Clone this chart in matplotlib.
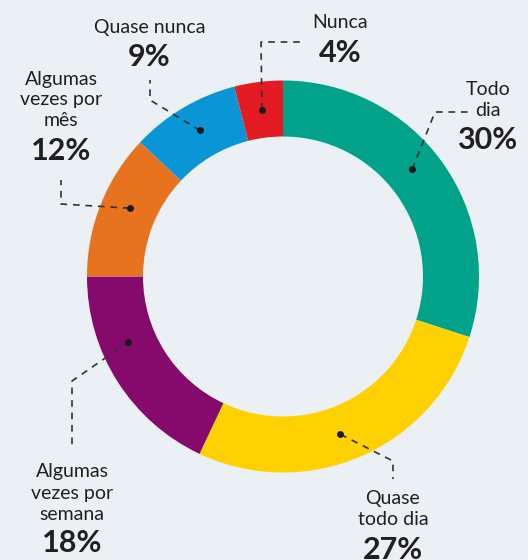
import numpy as np
import matplotlib
matplotlib.use("Agg")
import matplotlib.pyplot as plt

# ---------------- Data ----------------
labels = ["Todo\ndia", "Quase\ntodo dia", "Algumas\nvezes por\nsemana",
          "Algumas\nvezes por\nmês", "Quase nunca", "Nunca"]
values = [30, 27, 18, 12, 9, 4]
colors = ["#00A389", "#FFD100", "#850A6B", "#E8731E", "#0A96D6", "#E31B23"]

# ---------------- Layout (pixel coords, y down) ----------------
W, H = 528, 560
BG = "#EAF0F3"
INK = "#231F20"
cx, cy = 283, 276.5
R, ring = 196, 56
angle_shift = [3.7, -3.4, -9.4, -2.4, -1.0, 0.0]   # where the dot sits in the wedge
elbows = [[(435, 112), (470, 112)],
          [(393, 461), (393, 479)],
          [(72, 381), (72, 445)],
          [(61, 204), (61, 180)],
          [(150, 100), (150, 80)],
          [(261, 42), (302, 42)]]
text_pos = [(488, 100), (393, 509), (72, 493), (61, 100), (150, 27), (340, 22)]
pct_pos = [(487, 140), (393, 550), (72, 543), (61, 151), (149, 57), (340, 53)]
LINE_H = 21


def P(x, y):
    return x, H - y


fig = plt.figure(figsize=(W / 100, H / 100), dpi=100, facecolor=BG)
ax = fig.add_axes([0, 0, 1, 1])
ax.set_facecolor(BG)

wedges, _ = ax.pie(values, colors=colors, startangle=90, counterclock=False,
                   radius=R, center=P(cx, cy),
                   wedgeprops=dict(width=ring, edgecolor="none"))

ax.set_xlim(0, W)
ax.set_ylim(0, H)
ax.set_aspect("equal")
ax.axis("off")

r_mid = R - ring / 2
for i, w in enumerate(wedges):
    mid = np.deg2rad((w.theta1 + w.theta2) / 2 + angle_shift[i])
    dx = cx + r_mid * np.cos(mid)
    dy = cy - r_mid * np.sin(mid)
    pts = [(dx, dy)] + elbows[i]
    xs = [p[0] for p in pts]
    ys = [H - p[1] for p in pts]
    ax.plot(xs, ys, color="#333333", lw=1.2, ls=(0, (4, 3.5)),
            solid_capstyle="butt", dash_capstyle="butt")
    ax.plot(*P(dx, dy), "o", color="#1a1a1a", ms=5, mec="none")

    tx, ty = text_pos[i]
    lines = labels[i].split("\n")
    n = len(lines)
    for k, ln in enumerate(lines):
        yy = ty + (k - (n - 1) / 2) * LINE_H
        ax.text(*P(tx, yy), ln, ha="center", va="center", fontsize=14,
                family="Lato", color=INK)
    px, py = pct_pos[i]
    ax.text(*P(px, py), f"{values[i]}%", ha="center", va="center",
            fontsize=22, family="Lato", weight="bold", color=INK)

fig.savefig("out.png", dpi=100, facecolor=BG)
